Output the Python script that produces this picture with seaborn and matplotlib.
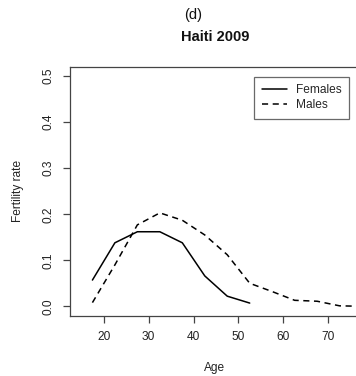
import matplotlib
matplotlib.use("Agg")
import matplotlib.pyplot as plt
import seaborn as sns
import pandas as pd
from matplotlib.lines import Line2D

# Age-specific fertility rates, Haiti 2009 (5-year age groups, midpoints)
female_ages = [17.5, 22.5, 27.5, 32.5, 37.5, 42.5, 47.5, 52.5]
female_rates = [0.057, 0.138, 0.162, 0.162, 0.138, 0.066, 0.022, 0.007]
male_ages = [17.5, 22.5, 27.5, 32.5, 37.5, 42.5, 47.5, 52.5, 57.5, 62.5, 67.5, 72.5, 77.5]
male_rates = [0.008, 0.09, 0.177, 0.203, 0.187, 0.155, 0.112, 0.05, 0.032, 0.013, 0.011, 0.001, 0.0]
x_ticks = [20, 30, 40, 50, 60, 70]
y_ticks = [0.0, 0.1, 0.2, 0.3, 0.4, 0.5]

df = pd.concat([
    pd.DataFrame({"Age": female_ages, "rate": female_rates, "Sex": "Females"}),
    pd.DataFrame({"Age": male_ages, "rate": male_rates, "Sex": "Males"}),
], ignore_index=True)

sns.set_theme(style="white")
plt.rcParams["font.family"] = ["Liberation Sans", "DejaVu Sans"]

FS = 8.6
W, H = 356, 376
fig = plt.figure(figsize=(W / 100, H / 100), dpi=100)
# plot region in pixels: x 69.5..385, y 67..315.5
ax = fig.add_axes([69.5 / W, 1 - 315.5 / H, (385 - 69.5) / W, (315.5 - 67) / H])

sns.lineplot(data=df, x="Age", y="rate", style="Sex", color="black",
             dashes={"Females": "", "Males": (4, 3)}, linewidth=1.1,
             ax=ax, legend=False)

ax.set_xlim(12.4, 82.6)
ax.set_ylim(-0.02, 0.52)
ax.set_xticks(x_ticks)
ax.set_yticks(y_ticks)
ax.set_xticklabels([str(t) for t in x_ticks], fontsize=FS, color="#222")
ax.set_yticklabels([f"{t:.1f}" for t in y_ticks], fontsize=FS, color="#222",
                   rotation=90, va="center")
ax.tick_params(axis="both", which="major", direction="out", length=5,
               width=0.9, color="#444", bottom=True, left=True, pad=6)
for s in ax.spines.values():
    s.set_visible(True)
    s.set_color("#444")
    s.set_linewidth(0.9)
ax.set_xlabel("")
ax.set_ylabel("")
ax.grid(False)

handles = [Line2D([], [], color="black", lw=1.1),
           Line2D([], [], color="black", lw=1.1, dashes=(4, 3))]
leg = fig.legend(handles, ["Females", "Males"], loc="upper right",
                 bbox_to_anchor=(349 / W, 1 - 76.7 / H), fontsize=FS,
                 frameon=True, fancybox=False, handlelength=2.1,
                 handletextpad=0.8, labelspacing=0.3, borderpad=0.6,
                 borderaxespad=0)
leg.get_frame().set_edgecolor("#444")
leg.get_frame().set_linewidth(0.9)

fig.text(193 / W, 1 - 15 / H, "(d)", ha="center", va="center", fontsize=10.5, color="#111")
fig.text(215 / W, 1 - 37 / H, "Haiti 2009", ha="center", va="center", fontsize=10.5,
         fontweight="bold", color="#111")
fig.text(215 / W, 1 - 368 / H, "Age", ha="center", va="center", fontsize=FS, color="#222")
fig.text(18 / W, 1 - 191 / H, "Fertility rate", ha="center", va="center", fontsize=FS,
         rotation=90, color="#222")

fig.savefig("out.png", dpi=100)
